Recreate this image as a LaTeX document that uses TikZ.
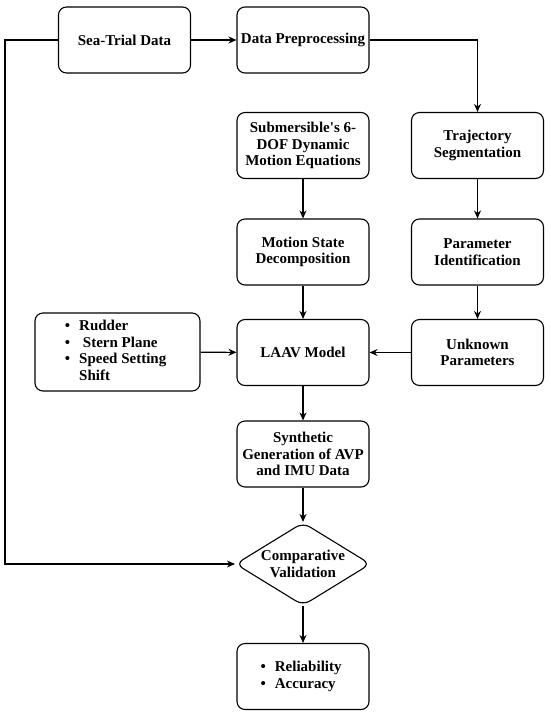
\documentclass[tikz,border=0pt]{standalone}
\usepackage{fontspec}
\defaultfontfeatures[\rmfamily]{}
\setmainfont{Liberation Serif}
\usetikzlibrary{shapes.geometric,arrows.meta}

\begin{document}
\begin{tikzpicture}[
    x=1pt, y=-1pt,
    >={Stealth[length=8pt,width=7pt]},
    every node/.style={font=\bfseries\fontsize{15}{16.5}\selectfont},
    block/.style={draw, rectangle, rounded corners=8pt, line width=1.1pt, minimum width=132pt, minimum height=66pt, align=center, inner sep=2pt},
    listblock/.style={block, minimum width=165pt, minimum height=78pt},
    decision/.style={draw, diamond, rounded corners=8pt, line width=1.1pt, minimum width=135pt, minimum height=83pt, aspect=1.63, inner sep=0pt, align=center}
]
    \useasboundingbox (0,0) rectangle (550,716);

    % Data Layer
    \node[block] (seatrial) at (124.5,40) {Sea-Trial Data};
    \node[block] (preproc) at (303,40) {Data Preprocessing};

    % Model Layer
    \node[block] (equations) at (303,145.5) {Submersible's 6-\\DOF Dynamic\\Motion Equations};
    \node[block] (trajectory) at (477.5,145.5) {Trajectory\\Segmentation};
    \node[block] (decomp) at (303,252) {Motion State\\Decomposition};
    \node[block] (paramid) at (477.5,252) {Parameter\\Identification};

    % LAAV Layer
    \node[listblock] (inputs) at (117.5,352) {
        \begin{tabular}{@{}l@{\hspace{9pt}}l@{}}
        \textbullet & Rudder\\
        \textbullet & \ Stern Plane\\
        \textbullet & Speed Setting\\
                    & Shift
        \end{tabular}
    };
    \node[block] (laav) at (303,352.5) {LAAV Model};
    \node[block] (unknown) at (477.5,352.5) {Unknown\\Parameters};

    % Validation Layer
    \node[block] (synthetic) at (303,454) {Synthetic\\Generation of AVP\\and IMU Data};
    \node[decision] (validation) at (303,564) {Comparative\\Validation};
    \node[block] (result) at (303,676.5) {
        \begin{tabular}{@{}l@{\hspace{9pt}}l@{}}
        \textbullet & Reliability\\
        \textbullet & Accuracy
        \end{tabular}
    };
    \coordinate (loop) at (5,40);

    % Connections
    \draw[->, line width=1.1pt] (seatrial) -- (preproc);
    \draw[->, line width=1.1pt] (preproc.east) -| (trajectory.north);
    \draw[->, line width=1.1pt] (trajectory) -- (paramid);
    \draw[->, line width=1.1pt] (paramid) -- (unknown);
    \draw[->, line width=1.1pt] (equations) -- (decomp);
    \draw[->, line width=1.1pt] (decomp) -- (laav);
    \draw[->, line width=1.1pt] (inputs) -- (laav);
    \draw[->, line width=1.1pt] (unknown) -- (laav);
    \draw[->, line width=1.1pt] (laav) -- (synthetic);
    \draw[->, line width=1.1pt] (synthetic) -- (validation);
    \draw[->, line width=1.1pt] (validation) -- (result);
    \draw[->, line width=1.1pt] (seatrial.west) -- (loop) |- (validation.west);

\end{tikzpicture}
\end{document}
